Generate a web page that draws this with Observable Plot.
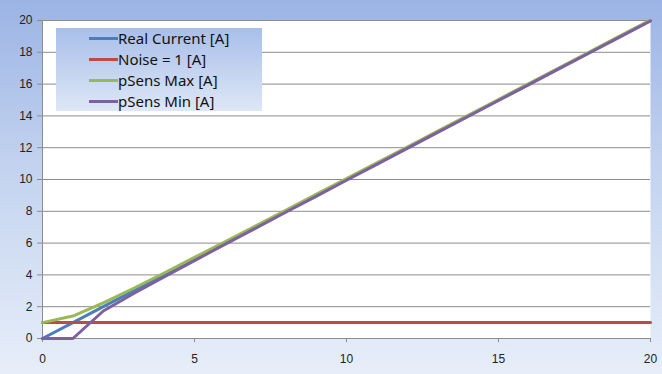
<!DOCTYPE html>
<html>
<head>
<meta charset="utf-8">
<script src="https://cdn.jsdelivr.net/npm/d3@7"></script>
<script src="https://cdn.jsdelivr.net/npm/@observablehq/plot@0.6"></script>
<style>
  html, body { margin: 0; padding: 0; }
  #wrap {
    position: relative; width: 662px; height: 374px; overflow: hidden;
    background: linear-gradient(to bottom, #9cb4e5 0%, #c3d3ef 45%, #e7eef9 100%);
  }
  #legend {
    position: absolute; left: 56px; top: 28px; width: 206px; height: 83px;
    background: linear-gradient(to bottom, #a8bfea 0%, #dde7f6 100%);
    font-family: "Noto Sans", sans-serif; font-size: 15px; color: #111;
  }
  .row { position: absolute; left: 33px; height: 20px; display: flex; align-items: center; }
  .sw { width: 29px; height: 3px; margin-right: 0px; }
</style>
</head>
<body>
<div id="wrap"><div id="chart"></div><div id="legend"></div></div>
<script>
const xs = [0,1,2,3,4,5,6,7,8,9,10,11,12,13,14,15,16,17,18,19,20];
const realCurrent = [0,1,2,3,4,5,6,7,8,9,10,11,12,13,14,15,16,17,18,19,20];
const noise = [1,1,1,1,1,1,1,1,1,1,1,1,1,1,1,1,1,1,1,1,1];
const pSensMax = [1,1.41,2.24,3.16,4.12,5.1,6.08,7.07,8.06,9.06,10.05,11.05,12.04,13.04,14.04,15.03,16.03,17.03,18.03,19.03,20.02];
const pSensMin = [0,0,1.73,2.83,3.87,4.9,5.92,6.93,7.94,8.94,9.95,10.95,11.96,12.96,13.96,14.97,15.97,16.97,17.97,18.97,19.97];
const seriesNames = ["Real Current [A]", "Noise = 1 [A]", "pSens Max [A]", "pSens Min [A]"];
const seriesColors = ["#4a7ebb", "#be4b48", "#98b954", "#7d60a0"];
const xTicks = [0,5,10,15,20];
const yTicks = [0,2,4,6,8,10,12,14,16,18,20];

const allSeries = [realCurrent, noise, pSensMax, pSensMin];
const data = [];
allSeries.forEach((vals, si) => vals.forEach((v, i) => data.push({x: xs[i], y: v, s: seriesNames[si]})));

const chart = Plot.plot({
  width: 662, height: 374,
  marginLeft: 42, marginRight: 12, marginTop: 20, marginBottom: 36,
  style: {background: "transparent", fontFamily: "'Liberation Sans', sans-serif", fontSize: "12px", color: "#222"},
  x: {domain: [0, 20], ticks: xTicks},
  y: {domain: [0, 20], ticks: yTicks},
  color: {domain: seriesNames, range: seriesColors},
  marks: [
    Plot.frame({fill: "white", stroke: null}),
    Plot.gridY(yTicks, {stroke: "#8c8c8c", strokeOpacity: 1, strokeWidth: 1}),
    Plot.ruleX([0], {stroke: "#8c8c8c"}),
    Plot.axisY({ticks: yTicks, tickSize: 5, tickPadding: 5, label: null, stroke: "#8c8c8c"}),
    Plot.axisX({ticks: xTicks, tickSize: 4, tickPadding: 12, label: null, stroke: "#8c8c8c"}),
    Plot.line(data, {x: "x", y: "y", z: "s", stroke: "s", strokeWidth: 3, strokeLinejoin: "round"})
  ]
});
document.getElementById("chart").appendChild(chart);

const legend = document.getElementById("legend");
const rowTops = [0, 21, 42, 63];
seriesNames.forEach((n, i) => {
  const r = document.createElement("div");
  r.className = "row";
  r.style.top = rowTops[i] + "px";
  r.innerHTML = `<span class="sw" style="background:${seriesColors[i]}"></span><span>${n}</span>`;
  legend.appendChild(r);
});
</script>
</body>
</html>
